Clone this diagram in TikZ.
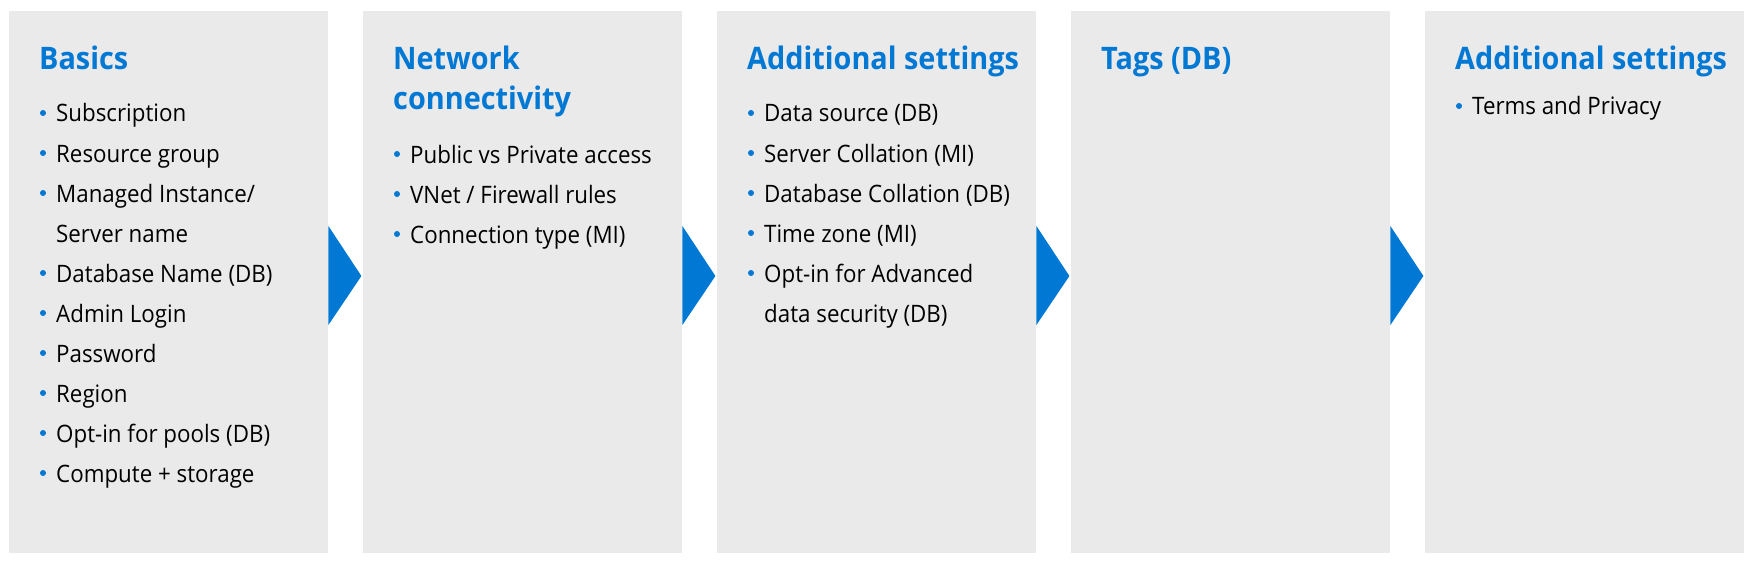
\documentclass[tikz,border=0pt]{standalone}
\usepackage{fontspec}
\setmainfont[FakeStretch=0.93]{Open Sans}
\usetikzlibrary{calc}
\definecolor{msblue}{HTML}{0078D4}
\definecolor{panelgray}{HTML}{EAEAEA}

\begin{document}
\begin{tikzpicture}[x=1pt,y=-1pt,
  panel/.style = {fill=panelgray, minimum width=319pt, minimum height=542pt, anchor=north west, inner sep=0pt},
  head/.style  = {anchor=base west, inner sep=0pt, text=msblue, font=\fontsize{31}{40}\selectfont\bfseries},
  item/.style  = {anchor=base west, inner sep=0pt, font=\fontsize{24}{40}\selectfont},
  dot/.style   = {circle, fill=msblue, inner sep=0pt, minimum size=6pt}]
\useasboundingbox (0,0) rectangle (1761,567);
% five steps
\foreach \i in {1,...,5} \node[panel] (p\i) at ({9+354*(\i-1)},11) {};
% chevrons between the steps
\foreach \i in {1,...,4}
  \fill[msblue] ($(p\i.north east)+(0,215)$) -- ($(p\i.north east)+(33,265)$) -- ($(p\i.north east)+(0,314)$) -- cycle;
% bullets: panel/line
\foreach \i/\k in {1/0,1/1,1/2,1/4,1/5,1/6,1/7,1/8,1/9, 3/0,3/1,3/2,3/3,3/4}
  \node[dot] (d\i-\k) at ($(p\i.north west)+(34,102+40*\k)$) {};
\foreach \k in {0,1,2} \node[dot] (d2-\k) at ($(p2.north west)+(34,143+40*\k)$) {};
\node[dot] (d5-0) at ($(p5.north west)+(34,95)$) {};

% Basics
\node[head] (t1) at (39,70) {Basics};
\node[item] (a0) at (56,122) {Subscription};
\node[item] (a1) at (56,162) {Resource group};
\node[item] (a2) at (56,202) {Managed Instance/};
\node[item] (a3) at (56,242) {Server name};
\node[item] (a4) at (56,282) {Database Name (DB)};
\node[item] (a5) at (56,322) {Admin Login};
\node[item] (a6) at (56,362) {Password};
\node[item] (a7) at (56,402) {Region};
\node[item] (a8) at (56,442) {Opt-in for pools (DB)};
\node[item] (a9) at (56,482) {Compute + storage};

% Network connectivity
\node[head] (t2a) at (393,70) {Network};
\node[head] (t2b) at (393,110) {connectivity};
\node[item] (b0) at (410,163) {Public vs Private access};
\node[item] (b1) at (410,203) {VNet / Firewall rules};
\node[item] (b2) at (410,243) {Connection type (MI)};

% Additional settings
\node[head] (t3) at (747,70) {Additional settings};
\node[item] (c0) at (764,122) {Data source (DB)};
\node[item] (c1) at (764,162) {Server Collation (MI)};
\node[item] (c2) at (764,202) {Database Collation (DB)};
\node[item] (c3) at (764,242) {Time zone (MI)};
\node[item] (c4) at (764,282) {Opt-in for Advanced};
\node[item] (c5) at (764,322) {data security (DB)};

% Tags
\node[head] (t4) at (1101,70) {Tags (DB)};

% Additional settings (last)
\node[head] (t5) at (1455,70) {Additional settings};
\node[item] (e0) at (1472,115) {Terms and Privacy};
\end{tikzpicture}
\end{document}
